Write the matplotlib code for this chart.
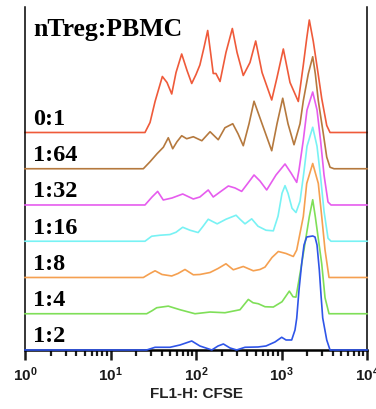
import matplotlib
matplotlib.use("Agg")
import matplotlib.pyplot as plt
import numpy as np

plt.rcParams['mathtext.fontset'] = 'custom'
plt.rcParams['mathtext.bf'] = 'Liberation Sans:bold'
plt.rcParams['mathtext.rm'] = 'Liberation Sans:bold'

# CFSE histograms, one per nTreg:PBMC ratio (FL1-H intensity, relative counts)
ratios = ["0:1", "1:64", "1:32", "1:16", "1:8", "1:4", "1:2"]
colors = ["#ef5a3a", "#b5793e", "#e65cee", "#78f2f4", "#f5a050", "#7fdf58", "#2f55e8"]

cfse_01 = [1, 25.3, 29.0, 33.2, 40.4, 45.8, 52.0, 58.4, 68.0, 78.5, 89.1, 100, 111, 124, 137,
           148, 159, 171, 191, 224, 266, 302, 357, 428, 499, 592, 768, 886, 1050, 1257, 1572,
           1799, 1971, 2114, 2354, 2694, 2953, 3380, 3693, 10000]
count_01 = [0, 0, 10, 31, 56, 50, 38.5, 60, 78.5, 62, 49, 58, 67.5, 85, 102,
            80, 59, 59, 51, 80, 104, 80, 57, 70, 91.5, 60, 32.5, 55, 83.5, 50, 31,
            67.5, 94, 112.5, 91, 57.5, 34, 7, 0, 0]

cfse_164 = [1, 24.2, 29.0, 35.0, 41.5, 47.4, 53.4, 59.9, 68.0, 77.8, 93.0, 117, 146, 182, 218,
            269, 310, 357, 417, 477, 592, 768, 886, 1033, 1191, 1400, 1646, 1799, 2058, 2317,
            2485, 2694, 3083, 3380, 3693, 4112, 10000]
count_164 = [0, 0, 7, 15, 21.5, 31, 20, 27, 33, 30, 32, 28, 37, 29, 41,
             45, 35, 23, 45, 67.5, 45, 18, 45, 70.5, 45, 24, 45, 68, 95, 112,
             95, 68, 35, 11.6, 1.5, 0, 0]

cfse_132 = [1, 25.3, 30.6, 35.6, 41.4, 52.4, 69.9, 93.0, 111, 139, 159, 191, 239, 286, 342,
            406, 477, 560, 671, 862, 1099, 1292, 1506, 1602, 1799, 1987, 2317, 2602, 2858,
            3142, 3499, 3793, 10000]
count_132 = [0, 0, 8, 13.6, 5, 7, 11, 6, 8, 15, 8, 13, 19, 17, 13.6,
             22, 30, 24, 15, 30, 41, 32, 22.6, 35, 65, 95, 113, 95, 65,
             30, 3, 0, 0]

cfse_116 = [1, 25.3, 30.3, 37.9, 49.6, 58.4, 69.9, 85.1, 106, 121, 139, 154, 177, 224, 294,
            327, 374, 448, 531, 659, 802, 910, 1014, 1099, 1191, 1327, 1477, 1646, 1833, 1987,
            2317, 2602, 2858, 3142, 3499, 3793, 10000]
count_116 = [0, 0, 5, 6, 6.7, 9, 14, 11, 8.7, 15, 22, 20, 17.4, 22, 26,
             22, 17.4, 22.4, 15, 11, 10.4, 25, 48, 55.6, 48, 33, 28.7, 40, 70, 95,
             114, 95, 65, 30, 3, 0, 0]

cfse_18 = [1, 24.2, 29.0, 33.2, 40.0, 52.0, 61.6, 74.3, 93.0, 111, 146, 181, 224, 273, 357,
           468, 560, 641, 774, 918, 1129, 1374, 1506, 1799, 1971, 2317, 2694, 2953, 3228,
           3594, 10000]
count_18 = [0, 0, 4, 6.7, 3, 1.5, 4, 8, 2.7, 3, 5, 9, 13.7, 7.7, 11,
            6.7, 8, 10.4, 20, 26, 24, 21, 27.5, 61, 94, 114, 94, 61, 27.5,
            0, 0]

cfse_14 = [1, 26.5, 30.6, 34.7, 47.4, 65.0, 97.3, 146, 218, 327, 409, 464, 535, 641, 802,
           1014, 1234, 1363, 1477, 1723, 2114, 2317, 2485, 2953, 3228, 3594, 10000]
count_14 = [0, 0, 3, 6, 7.6, 4, 0, 1.7, 1, 4, 14.3, 11, 10, 7, 6.7,
            12, 22.6, 17, 16.6, 50, 97, 114, 97, 50, 16, 0, 0]

cfse_12 = [1, 26.5, 33.2, 49.6, 65.0, 89.1, 111, 153, 181, 209, 250, 299, 374, 531, 659,
           839, 1005, 1129, 1315, 1438, 1506, 1602, 1723, 1833, 1971, 2317, 2465, 2602, 2768,
           2897, 3033, 3380, 3693, 10000]
count_12 = [0, 0, 2.7, 2.7, 5, 9, 4, 0, 4, 6, 2, 0, 2.7, 3, 4,
            8, 12.7, 10, 10, 20, 31.7, 60, 86.7, 105, 113, 114, 113, 105, 80,
            55, 32, 10, 0, 0]

cfse_all = [cfse_01, cfse_164, cfse_132, cfse_116, cfse_18, cfse_14, cfse_12]
count_all = [count_01, count_164, count_132, count_116, count_18, count_14, count_12]

step = 36.25  # vertical stacking offset between histograms

fig = plt.figure(figsize=(3.76, 4.09), dpi=100)
ax = fig.add_axes([0.0665, 0.1443, 0.9096, 0.8386])

n = len(ratios)
for i, (lab, col, x, y) in enumerate(zip(ratios, colors, cfse_all, count_all)):
    off = (n - 1 - i) * step
    ax.plot(x, np.array(y) + off, color=col, lw=1.2, clip_on=False, zorder=2 + i,
            solid_joinstyle="round")
    ax.text(0.023, off + 7.5, lab, transform=ax.get_yaxis_transform(),
            fontfamily="Liberation Serif", fontweight="bold", fontsize=17.5, va="baseline")

ax.text(0.023, 314, "nTreg:PBMC", transform=ax.get_yaxis_transform(),
        fontfamily="Liberation Serif", fontweight="bold", fontsize=18.5, va="baseline")

ax.set_xscale("log")
ax.set_xlim(1, 10000)
ax.set_ylim(0, 343)
ax.set_yticks([])
ax.set_xticks([1, 10, 100, 1000, 10000])
ax.set_xticklabels([r"$\mathbf{10^{%d}}$" % k for k in range(5)])
ax.tick_params(axis="x", which="major", direction="out", length=7, width=1.8,
               labelsize=11, pad=4, colors="#1a1a1a")
ax.tick_params(axis="x", which="minor", direction="out", length=4, width=1.6, colors="#1a1a1a")
ax.spines["top"].set_visible(False)
for s in ["left", "right"]:
    ax.spines[s].set_linewidth(1.1)
ax.spines["bottom"].set_linewidth(1.8)
ax.set_xlabel("FL1-H: CFSE", fontfamily="Liberation Sans", fontweight="bold",
              fontsize=11, labelpad=2, color="#222222")

fig.savefig("out.png", dpi=100)
